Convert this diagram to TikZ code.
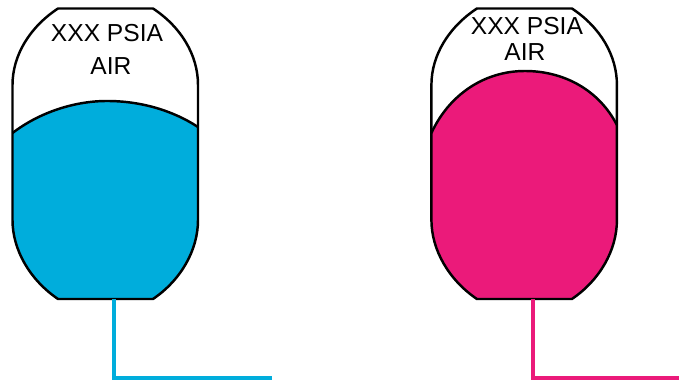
\documentclass[tikz,border=0pt]{standalone}
\usepackage{fontspec}
\setmainfont{Liberation Sans}
\definecolor{oilBlue}{HTML}{00ADDC}
\definecolor{oilPink}{HTML}{EB1A7A}
\newcommand{\tankside}{(58,8.5) .. controls (30,27) and (12.5,55) .. (12.5,85) -- (12.5,220) .. controls (12.5,250) and (30,280) .. (58,299)
  -- (153,299) .. controls (181,280) and (198,250) .. (198,220) -- (198,85) .. controls (198,55) and (181,27) .. (153,8.5) -- cycle}
\begin{document}
\begin{tikzpicture}[
  x=0.02cm, y=-0.02cm,
  tankline/.style={draw=black, line width=1.4pt, line join=round},
  gaslabel/.style={font=\fontsize{14}{16}\selectfont, inner sep=0pt, align=center},
  pipe/.style={line width=2.3pt}
]
\useasboundingbox (0,0) rectangle (679,384);

% blue tank
\fill[oilBlue] (12.5,133) .. controls (40,112) and (75,101) .. (107,101) .. controls (140,101) and (172,110) .. (198,127)
  -- (198,220) .. controls (198,250) and (181,280) .. (153,299) -- (58,299) .. controls (30,280) and (12.5,250) .. (12.5,220) -- cycle;
\draw[tankline] (12.5,133) .. controls (40,112) and (75,101) .. (107,101) .. controls (140,101) and (172,110) .. (198,127);
\draw[tankline] \tankside;
\node[gaslabel] (bluegas) at (107,33) {XXX PSIA};
\node[gaslabel] (blueair) at (111,66) {AIR};
\coordinate (bluebase) at (114,299);
\coordinate (blueend) at (272,378);
\draw[pipe, oilBlue] (bluebase) |- (blueend);

% pink tank
\begin{scope}[xshift=8.38cm]
\fill[oilPink] (12.5,133) .. controls (30,95) and (65,71) .. (106,71) .. controls (145,71) and (180,90) .. (198,125)
  -- (198,220) .. controls (198,250) and (181,280) .. (153,299) -- (58,299) .. controls (30,280) and (12.5,250) .. (12.5,220) -- cycle;
\draw[tankline] (12.5,133) .. controls (30,95) and (65,71) .. (106,71) .. controls (145,71) and (180,90) .. (198,125);
\draw[tankline] \tankside;
\node[gaslabel] (pinkgas) at (108,26) {XXX PSIA};
\node[gaslabel] (pinkair) at (106,52) {AIR};
\coordinate (pinkbase) at (114,299);
\coordinate (pinkend) at (260,378);
\draw[pipe, oilPink] (pinkbase) |- (pinkend);
\end{scope}
\end{tikzpicture}
\end{document}
